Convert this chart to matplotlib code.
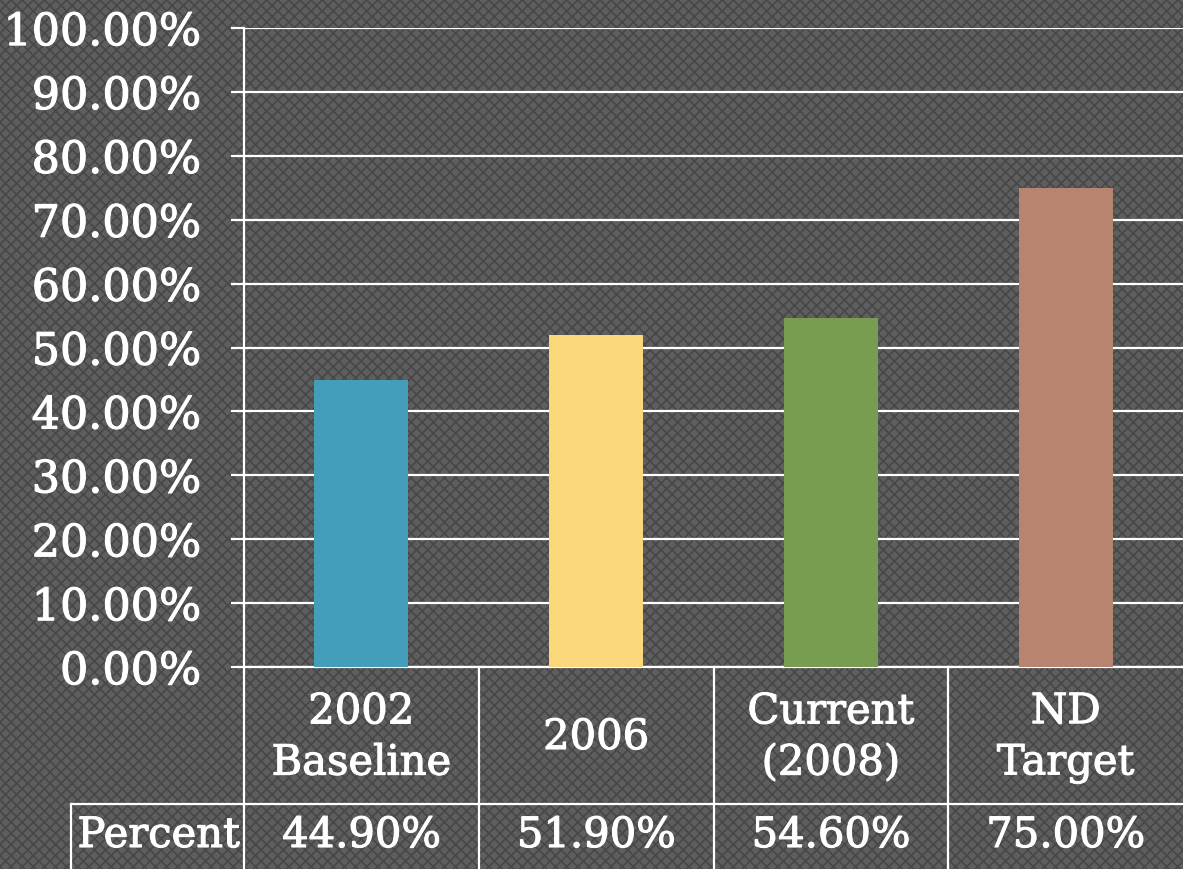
import matplotlib
matplotlib.use("Agg")
import matplotlib.pyplot as plt
import matplotlib.patheffects as pe
from matplotlib.patches import Rectangle
from matplotlib.transforms import blended_transform_factory
from matplotlib.ticker import FuncFormatter, MultipleLocator

categories = ["2002\nBaseline", "2006", "Current\n(2008)", "ND\nTarget"]
values = [44.9, 51.9, 54.6, 75.0]
value_labels = ["44.90%", "51.90%", "54.60%", "75.00%"]
row_label = "Percent"
colors = ["#439EBC", "#F9D77A", "#779C52", "#B7846F"]

W, H = 1183, 869
fig = plt.figure(figsize=(W / 100, H / 100), dpi=100)
fig.patch.set_facecolor("#5a5a5a")
plt.rcParams["hatch.linewidth"] = 1.2
bg = Rectangle((0, 0), 1, 1, transform=fig.transFigure, facecolor="#5e5e5e",
               edgecolor="#474747", hatch="xxx", linewidth=0, zorder=-10)
fig.patches.append(bg)

def fx(px):
    return px / W

def fy(py):
    return 1 - py / H

bold = [pe.withStroke(linewidth=0.8, foreground="white")]

ax = fig.add_axes([fx(244), fy(667), fx(1183) - fx(244), fy(28) - fy(667)])
ax.set_facecolor("none")
x = list(range(len(categories)))
ax.bar(x, values, width=0.4, color=colors, zorder=3)
ax.set_xlim(-0.5, 3.5)
ax.set_ylim(0, 100)
ax.yaxis.set_major_locator(MultipleLocator(10))
ax.yaxis.set_major_formatter(FuncFormatter(lambda v, p: f"{v:.2f}%"))
ax.grid(axis="y", color="white", linewidth=1.6, zorder=1)
ax.set_axisbelow(True)
for s in ["top", "right"]:
    ax.spines[s].set_visible(False)
ax.spines["left"].set_color("white")
ax.spines["left"].set_linewidth(1.6)
ax.spines["bottom"].set_color("white")
ax.spines["bottom"].set_linewidth(1.6)
ax.set_xticks([])
ax.tick_params(axis="y", direction="out", length=9.5, width=1.6, color="white",
               labelcolor="white", labelsize=32, pad=21)
for lab in ax.get_yticklabels():
    lab.set_fontfamily("DejaVu Serif")
    lab.set_path_effects(bold)

# data table below the axes
tr = blended_transform_factory(ax.transData, fig.transFigure)
lc = dict(color="white", linewidth=1.6, clip_on=False)
for b in [-0.5, 0.5, 1.5, 2.5]:
    ax.plot([b, b], [fy(667), fy(869)], transform=tr, **lc)
fig.add_artist(plt.Line2D([fx(71), fx(1183)], [fy(804), fy(804)], transform=fig.transFigure,
                          color="white", linewidth=1.6))
fig.add_artist(plt.Line2D([fx(71), fx(71)], [fy(804), fy(869)], transform=fig.transFigure,
                          color="white", linewidth=1.6))

tk = dict(color="white", fontsize=30, family="DejaVu Serif", ha="center", va="center",
          linespacing=1.28, path_effects=bold)
for i, (c, v) in enumerate(zip(categories, value_labels)):
    ax.text(i, fy(737), c, transform=tr, **tk)
    ax.text(i, fy(835), v, transform=tr, **tk)
fig.text((fx(71) + fx(244)) / 2 + 0.001, fy(835), row_label, **tk)

fig.savefig("out.png", dpi=100, facecolor=fig.get_facecolor())
